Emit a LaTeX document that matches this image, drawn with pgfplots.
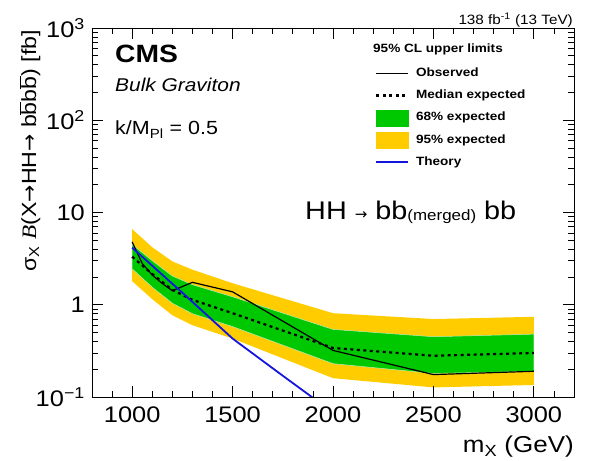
\documentclass[border=0pt]{standalone}
\usepackage{fontspec}
\setmainfont[FakeStretch=1.13]{Liberation Sans}
\newfontfamily\serifit[FakeStretch=1.13]{Liberation Serif}
\newfontfamily\djv{DejaVu Sans}
\usepackage{pgfplots}
\pgfplotsset{compat=1.18}
\definecolor{bgreen}{RGB}{0,200,0}
\definecolor{byellow}{RGB}{255,204,0}
\definecolor{tblue}{RGB}{20,20,225}
\newcommand{\fs}[1]{\fontsize{#1}{#1}\selectfont}
\begin{document}
\begin{tikzpicture}
\useasboundingbox (-92bp,-64bp) rectangle (502bp,397bp);
\begin{axis}[
  at={(0,0)}, anchor=south west, scale only axis,
  width=482bp, height=369bp,
  xmin=800, xmax=3200, ymin=0.1, ymax=1000, ymode=log,
  xtick={500,1000,...,3500}, minor x tick num=4,
  yticklabel={\pgfmathtruncatemacro\e{round(\tick/2.302585)}\ifnum\e=0 1\else\ifnum\e=1 10\else\ifnum\e<0 10\textsuperscript{−\number-\e}\else 10\textsuperscript{\e}\fi\fi\fi},
  /pgf/number format/assume math mode=true,
  /pgf/number format/1000 sep={},
  tick align=inside, xtick pos=both, ytick pos=both,
  tickwidth=11bp, subtickwidth=6bp,
  tick style={black, line width=0.8bp},
  axis line style={line width=0.8bp},
  axis on top,
  ticklabel style={font=\fs{22.5bp}},
  xticklabel style={inner sep=0pt, yshift=-10bp},
  yticklabel style={inner sep=0pt, xshift=-7bp},
  xticklabel pos=left, yticklabel pos=left,
  xlabel={m\textsubscript{X} (GeV)},
  ylabel={σ\textsubscript{X} {\serifit\itshape B}(X{\djv →}HH{\djv →} b$\overline{\mbox{b}}$b$\overline{\mbox{b}}$) [fb]},
  xlabel style={font=\fs{23bp}, at={(axis description cs:1,0)}, anchor=north east, inner sep=0pt, yshift=-39bp},
  ylabel style={font=\fs{20.5bp}, at={(axis description cs:-0.129,0.995)}, anchor=east, inner sep=0pt},
  legend style={at={(axis description cs:0.589,0.8935)}, anchor=north west, draw=none, fill=none,
    inner sep=0pt, font=\bfseries\fs{12bp}, row sep=10.75bp,
    nodes={inner sep=0pt, text height=9bp, text depth=2.5bp},
    /tikz/every odd column/.append style={column sep=8bp}},
  legend cell align=left,
]
% 95% band
\addplot[fill=byellow, draw=none, forget plot] coordinates {
 (1000,6.6) (1100,4.2) (1200,2.95) (1300,2.4) (1500,1.71) (2000,0.81) (2500,0.70) (3000,0.74)
 (3000,0.135) (2500,0.127) (2000,0.16) (1500,0.43) (1300,0.60) (1200,0.77) (1100,1.15) (1000,1.8)} -- cycle;
% 68% band
\addplot[fill=bgreen, draw={rgb,255:red,190;green,235;blue,190}, line width=0.5bp, forget plot] coordinates {
 (1000,4.5) (1100,3.0) (1200,2.05) (1300,1.65) (1500,1.22) (2000,0.54) (2500,0.45) (3000,0.48)
 (3000,0.19) (2500,0.18) (2000,0.23) (1500,0.58) (1300,0.80) (1200,1.04) (1100,1.55) (1000,2.45)} -- cycle;
% median expected
\addplot[black, line width=2.2bp, dash pattern=on 3bp off 3.5bp, forget plot] coordinates {
 (1000,3.32) (1100,2.15) (1200,1.45) (1300,1.13) (1500,0.81) (2000,0.34) (2500,0.28) (3000,0.30)};
% observed
\addplot[black, line width=1.2bp, forget plot] coordinates {
 (1000,4.8) (1050,2.8) (1100,2.1) (1150,1.7) (1200,1.42) (1300,1.75) (1500,1.38) (2000,0.32) (2500,0.175) (3000,0.19)};
% theory
\addplot[tblue, line width=1.8bp, forget plot] coordinates {
 (1000,4.15) (1250,1.35) (1500,0.43) (1750,0.17) (2000,0.068)};
\addlegendimage{legend image code/.code={\path[draw=none,fill=none] (0bp,-5.75bp) rectangle (32bp,5.75bp); \draw[black, line width=1.2bp, overlay] (0bp,0bp) -- (32bp,0bp);}}
\addlegendentry{Observed}
\addlegendimage{legend image code/.code={\path[draw=none,fill=none] (0bp,-5.75bp) rectangle (32bp,5.75bp); \draw[black, line width=2.2bp, dash pattern=on 3bp off 3.5bp, overlay] (0bp,0bp) -- (32bp,0bp);}}
\addlegendentry{Median expected}
\addlegendimage{legend image code/.code={\path[draw=none,fill=none] (0bp,-5.75bp) rectangle (32bp,5.75bp); \fill[bgreen, overlay] (0bp,-8bp) rectangle (32bp,8bp);}}
\addlegendentry{68\% expected}
\addlegendimage{legend image code/.code={\path[draw=none,fill=none] (0bp,-5.75bp) rectangle (32bp,5.75bp); \fill[byellow, overlay] (0bp,-8bp) rectangle (32bp,8bp);}}
\addlegendentry{95\% expected}
\addlegendimage{legend image code/.code={\path[draw=none,fill=none] (0bp,-5.75bp) rectangle (32bp,5.75bp); \draw[tblue, line width=1.8bp, overlay] (0bp,0bp) -- (32bp,0bp);}}
\addlegendentry{Theory}
\end{axis}
% axis tick marks (frame decoration), bottom/top and left/right
\foreach \i in {1,...,23}{
  \pgfmathsetmacro\xx{\i*20.08333}
  \pgfmathsetmacro\tl{ifthenelse(mod(\i+3,5)==0,11,6)}
  \draw[black, line width=0.8bp] (\xx bp,0bp) -- (\xx bp,\tl bp);
  \draw[black, line width=0.8bp] (\xx bp,369bp) -- (\xx bp,369bp-\tl bp);
}
\foreach \d in {0,1,2,3}{
  \foreach \k in {2,...,9}{
    \pgfmathsetmacro\yy{(\d+log10(\k))*92.25}
    \draw[black, line width=0.8bp] (0bp,\yy bp) -- (6bp,\yy bp);
    \draw[black, line width=0.8bp] (482bp,\yy bp) -- (476bp,\yy bp);
  }
}
\foreach \d in {1,2,3}{
  \pgfmathsetmacro\yy{\d*92.25}
  \draw[black, line width=0.8bp] (0bp,\yy bp) -- (11bp,\yy bp);
  \draw[black, line width=0.8bp] (482bp,\yy bp) -- (471bp,\yy bp);
}
\node[anchor=base west, inner sep=0pt, font=\bfseries\fs{12bp}] at (281bp,344.5bp) {95\% CL upper limits};
\node[anchor=base west, inner sep=0pt, font=\bfseries\fs{25bp}] at (23bp,334bp) {CMS};
\node[anchor=base west, inner sep=0pt, font=\itshape\fs{18.5bp}] at (23bp,305bp) {Bulk Graviton};
\node[anchor=base west, inner sep=0pt, font=\fs{19bp}] at (23bp,262bp) {k/M\textsubscript{Pl} = 0.5};
\node[anchor=base east, inner sep=0pt, font=\fs{13.5bp}] at (481bp,372bp) {138 fb\textsuperscript{-1} (13 TeV)};
\node[anchor=base west, inner sep=0pt, font=\fs{25.5bp}] at (213bp,177bp) {HH {\djv\fs{15bp}→} bb\raisebox{-1bp}{\fs{15bp}(merged)} bb};
\end{tikzpicture}
\end{document}
